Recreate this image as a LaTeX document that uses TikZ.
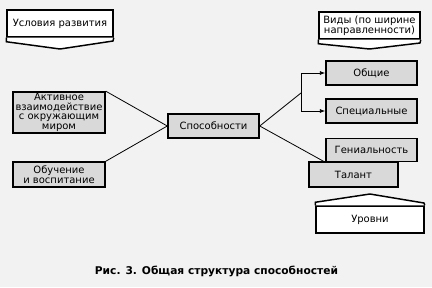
\documentclass[tikz,border=0pt]{standalone}
\usepackage{fontspec}
\setmainfont{DejaVu Sans}
\usetikzlibrary{arrows.meta}

\begin{document}
\begin{tikzpicture}[x=0.75pt, y=-0.75pt,
    grbox/.style={draw, line width=1.1pt, fill=black!15, align=center, inner sep=1pt,
        font=\fontsize{7.5}{7.3}\selectfont},
    wbox/.style={grbox, fill=white},
    conn/.style={line width=0.6pt},
    arr/.style={conn, -{Latex[length=4pt, width=3pt]}}]
    \fill[black!5] (0, 0) rectangle (432, 287);
    \useasboundingbox (0, 0) rectangle (432, 287);

    % headers with chevrons
    \node[wbox, minimum width=79.5pt, minimum height=20.25pt] (usl) at (60, 23.5) {Условия развития};
    \draw[line width=1.1pt, fill=white] (usl.south west) -- ++(0, 4) -- (60, 49) -- (113, 41) -- (usl.south east);
    \node[wbox, minimum width=75.75pt, minimum height=20.25pt] (vid) at (369.5, 25.5) {Виды (по ширине\\направленности)};
    \draw[line width=1.1pt, fill=white] (vid.south west) -- ++(0, 4) -- (369.5, 49) -- (420, 43) -- (vid.south east);
    \node[wbox, minimum width=81pt, minimum height=20.25pt] (urov) at (370, 219.5) {Уровни};
    \draw[line width=1.1pt, fill=white] (urov.north west) -- ++(0, -3) -- (370, 194) -- (424, 203) -- (urov.north east);

    % boxes
    \node[grbox, minimum width=68.25pt, minimum height=18pt] (spos) at (213.5, 126) {Способности};
    \node[grbox, minimum width=69pt, minimum height=30.75pt] (akt) at (59, 112.5) {Активное\\взаимодействие\\с окружающим\\миром};
    \node[grbox, minimum width=69pt, minimum height=18.75pt] (obuch) at (59, 174.5) {Обучение\\и воспитание};
    \node[grbox, minimum width=68.25pt, minimum height=18pt] (obsh) at (371.5, 73) {Общие};
    \node[grbox, minimum width=68.25pt, minimum height=18pt] (spec) at (371.5, 111) {Специальные};
    \node[grbox, minimum width=68.25pt, minimum height=17.25pt] (gen) at (371.5, 150) {Гениальность};
    \node[grbox, minimum width=66.75pt, minimum height=18.75pt] (tal) at (353.5, 174.5) {Талант};

    % connectors
    \coordinate (br) at (301, 93);
    \draw[conn] (akt.north east) -- (spos.west);
    \draw[conn] (obuch.north east) -- (spos.west);
    \draw[conn] (spos.east) -- (br);
    \draw[conn] (spos.east) -- (gen.south west);
    \draw[arr] (br) |- (obsh.west);
    \draw[arr] (br) |- (spec.west);

    \node[font=\fontsize{8}{9}\selectfont\bfseries] (cap) at (216.5, 271) {Рис. 3. Общая структура способностей};
\end{tikzpicture}
\end{document}
